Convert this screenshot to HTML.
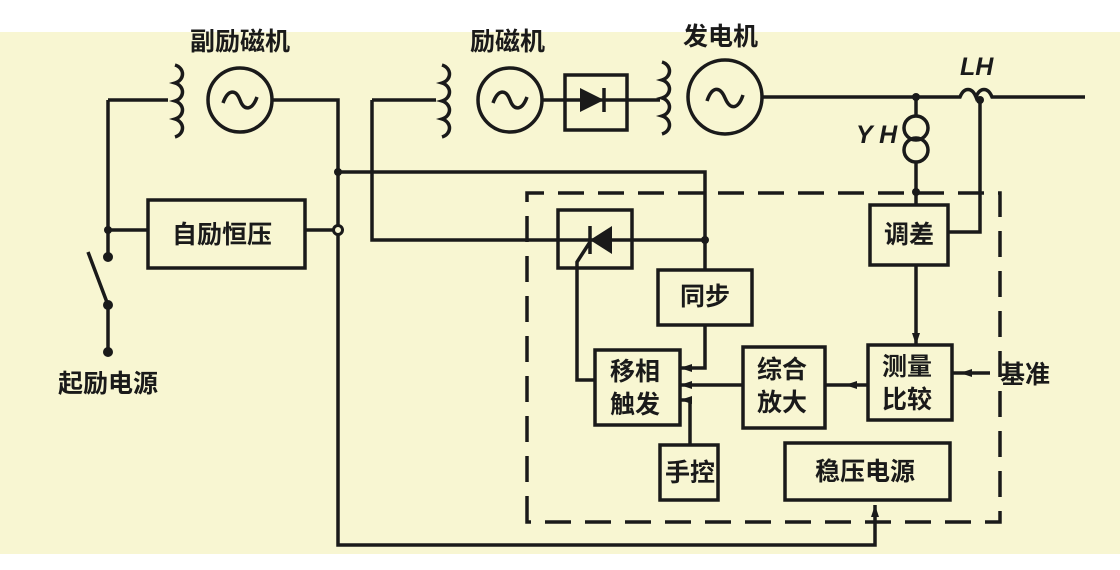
<!DOCTYPE html>
<html><head><meta charset="utf-8"><style>
body{margin:0;width:1120px;height:570px;background:#fff;overflow:hidden}
svg{display:block}
text{font-family:"Liberation Sans","Noto Sans CJK SC",sans-serif;font-size:25px;font-weight:bold;fill:#1a1a1a}
</style></head><body>
<svg width="1120" height="570" viewBox="0 0 1120 570">
<rect x="0" y="32" width="1120" height="522" fill="#f8f6d2"/>
<g stroke="#1a1a1a" stroke-width="3.5" fill="none">
<path d="M108,100H168"/>
<path d="M175,65c10,3 10,15 0,18c10,3 10,15 0,18c10,3 10,15 0,18c10,3 10,15 0,18"/>
<circle cx="240" cy="100" r="32"/>
<path d="M223,103c5,-14 13,-14 17,-3s12,11 17,-3"/>
<path d="M272,100H338V545H875V505"/>
<path d="M108,100V257M108,305V352M108,305L88,252"/>
<path d="M108,230H148M305,230H334"/>
<rect x="148" y="200" width="157" height="68"/>
<path d="M338,172H705V270"/>
<path d="M372,100H436M372,100V240H705"/>
<path d="M442,65c10,3 10,15 0,18c10,3 10,15 0,18c10,3 10,15 0,18c10,3 10,15 0,18"/>
<circle cx="510" cy="100" r="32"/>
<path d="M493,103c5,-14 13,-14 17,-3s12,11 17,-3"/>
<path d="M542,100H660"/>
<rect x="565" y="75" width="62" height="55"/>
<path d="M604,88V112"/>
<path d="M662,62c10,3 10,15 0,18c10,3 10,15 0,18c10,3 10,15 0,18c10,3 10,15 0,18"/>
<circle cx="725" cy="97" r="37"/>
<path d="M707,101c5,-15 13,-15 18,-3s13,12 18,-3"/>
<path d="M762,97H960c4,-10 12,-10 16,0c4,-10 12,-10 16,0H1085"/>
<path d="M916,97V116M916,163V205"/>
<circle cx="916" cy="128" r="12"/>
<circle cx="916" cy="150" r="12"/>
<path d="M980,100V232H948"/>
<rect x="870" y="205" width="78" height="60"/>
<path d="M916,265V345"/>
<rect x="558" y="210" width="74" height="58"/>
<path d="M590,226V254M590,242L577,262V380H595"/>
<rect x="658" y="270" width="94" height="55"/>
<path d="M705,325V368H680"/>
<rect x="595" y="350" width="85" height="75"/>
<rect x="743" y="347" width="82" height="81"/>
<path d="M680,385H743"/>
<rect x="868" y="345" width="84" height="75"/>
<path d="M825,385H868M952,373H990"/>
<rect x="660" y="445" width="58" height="55"/>
<path d="M690,445V400H680"/>
<rect x="785" y="443" width="165" height="57"/>
</g>
<g stroke="#1a1a1a" stroke-width="3.5" fill="none" stroke-dasharray="26,14">
<path d="M527,522V193H1000V522Z"/>
</g>
<g fill="#1a1a1a">
<circle cx="338" cy="172" r="4"/><circle cx="108" cy="230" r="4"/>
<circle cx="705" cy="240" r="4"/><circle cx="916" cy="97" r="4"/>
<circle cx="980" cy="100" r="4"/><circle cx="916" cy="192" r="4"/>
<circle cx="108" cy="257" r="5"/><circle cx="108" cy="305" r="5"/><circle cx="108" cy="352" r="5"/>
<path d="M580,88V112L604,100Z"/>
<path d="M612,226V254L590,240Z"/>
<path d="M680,368l12,-4v8z M680,385l12,-4v8z M680,400l12,-4v8z M845,385l12,-4v8z M960,373l12,-4v8z M916,345l-4,-12h8z M875,505l-4,12h8z"/>
</g>
<circle cx="338" cy="230" r="4.5" fill="#f8f6d2" stroke="#1a1a1a" stroke-width="3"/>
<text x="190" y="50">副励磁机</text>
<text x="470" y="50">励磁机</text>
<text x="683" y="45">发电机</text>
<text x="960" y="75" font-style="italic" font-size="22">LH</text>
<text x="856" y="143" font-style="italic" font-size="22">Y H</text>
<text x="172" y="243">自励恒压</text>
<text x="58" y="392">起励电源</text>
<text x="884" y="243">调差</text>
<text x="680" y="305">同步</text>
<text x="610" y="380">移相</text>
<text x="610" y="413">触发</text>
<text x="757" y="378">综合</text>
<text x="757" y="411">放大</text>
<text x="882" y="375">测量</text>
<text x="882" y="408">比较</text>
<text x="1000" y="383">基准</text>
<text x="665" y="481">手控</text>
<text x="815" y="480">稳压电源</text>
</svg>
</body></html>
